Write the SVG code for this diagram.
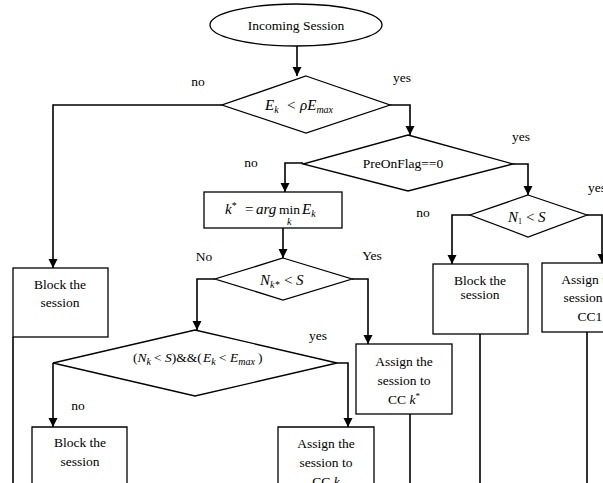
<svg xmlns="http://www.w3.org/2000/svg" width="603" height="483" viewBox="0 0 603 483" font-family="'Liberation Serif', 'Times New Roman', serif" font-size="13.5">
<defs>
<marker id="ah" viewBox="0 0 10 10" refX="10" refY="5" markerWidth="9" markerHeight="10" markerUnits="userSpaceOnUse" orient="auto">
<path d="M0,0 L10,5 L0,10 z" fill="#000"/>
</marker>
<style>
.s{fill:#fff;stroke:#000;stroke-width:1.3}
.c{fill:none;stroke:#000;stroke-width:1.6}
.a{marker-end:url(#ah)}
text{font-family:'Liberation Serif','Times New Roman',serif;font-size:13.5px;fill:#000}
.m{text-anchor:middle}
.i{font-style:italic}
.mt{font-size:15px}
.sub{font-size:10px;font-style:italic}
</style>
</defs>
<rect width="603" height="483" fill="#fff"/>

<g id="connectors">
<path class="c a" d="M297,46 V76"/>
<path class="c a" d="M222,105 H53 V268"/>
<path class="c a" d="M390,105 H410 V135"/>
<path class="c a" d="M303,163 H285 V192"/>
<path class="c a" d="M513,164 H528 V195"/>
<path class="c a" d="M283,228 V258"/>
<path class="c a" d="M215,279 H197 V330"/>
<path class="c a" d="M352,279 H368 V344"/>
<path class="c a" d="M53,363 V427"/>
<path class="c a" d="M337,363 H348 V427"/>
<path class="c a" d="M470,215 H452 V264"/>
<path class="c a" d="M587,215 H602 V263"/>
<path class="c" d="M13,337 V483"/>
<path class="c" d="M410,414 V483"/>
<path class="c" d="M480,334 V483"/>
<path class="c" d="M587,332 V483"/>
</g>

<g id="labels">
<text x="198" y="86" class="m">no</text>
<text x="402" y="82" class="m">yes</text>
<text x="521" y="141" class="m">yes</text>
<text x="251" y="167" class="m">no</text>
<text x="204" y="261" class="m">No</text>
<text x="372" y="260" class="m">Yes</text>
<text x="423" y="217" class="m">no</text>
<text x="588" y="192">yes</text>
<text x="78" y="410" class="m">no</text>
<text x="318" y="340" class="m">yes</text>
</g>

<g id="start">
<ellipse class="s" cx="296" cy="25" rx="86" ry="21"/>
<text x="296" y="30" class="m">Incoming Session</text>
</g>

<g id="d1">
<polygon class="s" points="306,76 390,105 306,133 222,105"/>
<text x="265" y="110" class="mt"><tspan class="i">E</tspan><tspan class="sub" dy="3">k</tspan><tspan x="287" dy="-3">&lt;</tspan><tspan x="300" class="i">ρE</tspan><tspan class="sub" dy="3">max</tspan></text>
</g>

<g id="d2">
<polygon class="s" points="408,135 513,164 408,191 303,164"/>
<text x="403" y="168" class="m">PreOnFlag==0</text>
</g>

<g id="b1">
<rect class="s" x="13" y="268" width="95" height="69"/>
<text x="60" y="289" class="m">Block the</text>
<text x="60" y="307" class="m">session</text>
</g>

<g id="bk">
<rect class="s" x="204" y="192" width="138" height="36"/>
<text x="225" y="214" class="mt"><tspan class="i">k</tspan><tspan font-size="10" dy="-5">*</tspan><tspan x="245" dy="5">=</tspan><tspan x="256" class="i">arg</tspan><tspan x="279" font-size="13.5">min</tspan><tspan x="302" class="i">E</tspan><tspan class="sub" dy="3">k</tspan></text>
<text x="287" y="225" class="sub">k</text>
</g>

<g id="d3">
<polygon class="s" points="283,258 352,279 283,300 215,279"/>
<text x="260" y="285" class="mt"><tspan class="i">N</tspan><tspan class="sub" dy="3">k*</tspan><tspan x="284" dy="-3">&lt;</tspan><tspan x="296" class="i">S</tspan></text>
</g>

<g id="d4">
<polygon class="s" points="195,330 337,363 195,396 53,363"/>
<text x="133" y="362" font-size="14">(<tspan class="i">N</tspan><tspan class="sub" font-size="9" dy="3">k</tspan><tspan x="154" dy="-3">&lt;</tspan><tspan x="165" class="i">S</tspan><tspan>)&amp;&amp;(</tspan><tspan x="203" class="i">E</tspan><tspan class="sub" font-size="9" dy="3">k</tspan><tspan x="219" dy="-3">&lt;</tspan><tspan x="230" class="i">E</tspan><tspan class="sub" font-size="9" dy="3">max</tspan><tspan x="258" dy="-3">)</tspan></text>
</g>

<g id="b2">
<rect class="s" x="356" y="344" width="96" height="70"/>
<text x="404" y="366" class="m">Assign the</text>
<text x="404" y="385" class="m">session to</text>
<text x="404" y="404" class="m">CC <tspan class="i">k</tspan><tspan font-size="9" dy="-5">*</tspan></text>
</g>

<g id="b3">
<path class="s" d="M32,483 V427 H127 V483"/>
<text x="80" y="447" class="m">Block the</text>
<text x="80" y="466" class="m">session</text>
</g>

<g id="b4">
<path class="s" d="M278,483 V427 H374 V483"/>
<text x="326" y="448" class="m">Assign the</text>
<text x="326" y="467" class="m">session to</text>
<text x="326" y="486" class="m">CC <tspan class="i">k</tspan></text>
</g>

<g id="d5">
<polygon class="s" points="528,195 587,215 528,237 470,215"/>
<text x="508" y="222" class="mt"><tspan class="i">N</tspan><tspan font-size="8" dy="2">1</tspan><tspan x="526" dy="-2">&lt;</tspan><tspan x="538" class="i">S</tspan></text>
</g>

<g id="b5">
<rect class="s" x="433" y="264" width="95" height="70"/>
<text x="480" y="285" class="m">Block the</text>
<text x="480" y="299" class="m" font-size="7">session</text>
</g>

<g id="b6">
<rect class="s" x="542" y="263" width="80" height="69"/>
<text x="590" y="284" class="m">Assign the</text>
<text x="590" y="302" class="m">session to</text>
<text x="590" y="321" class="m">CC1</text>
</g>
</svg>
